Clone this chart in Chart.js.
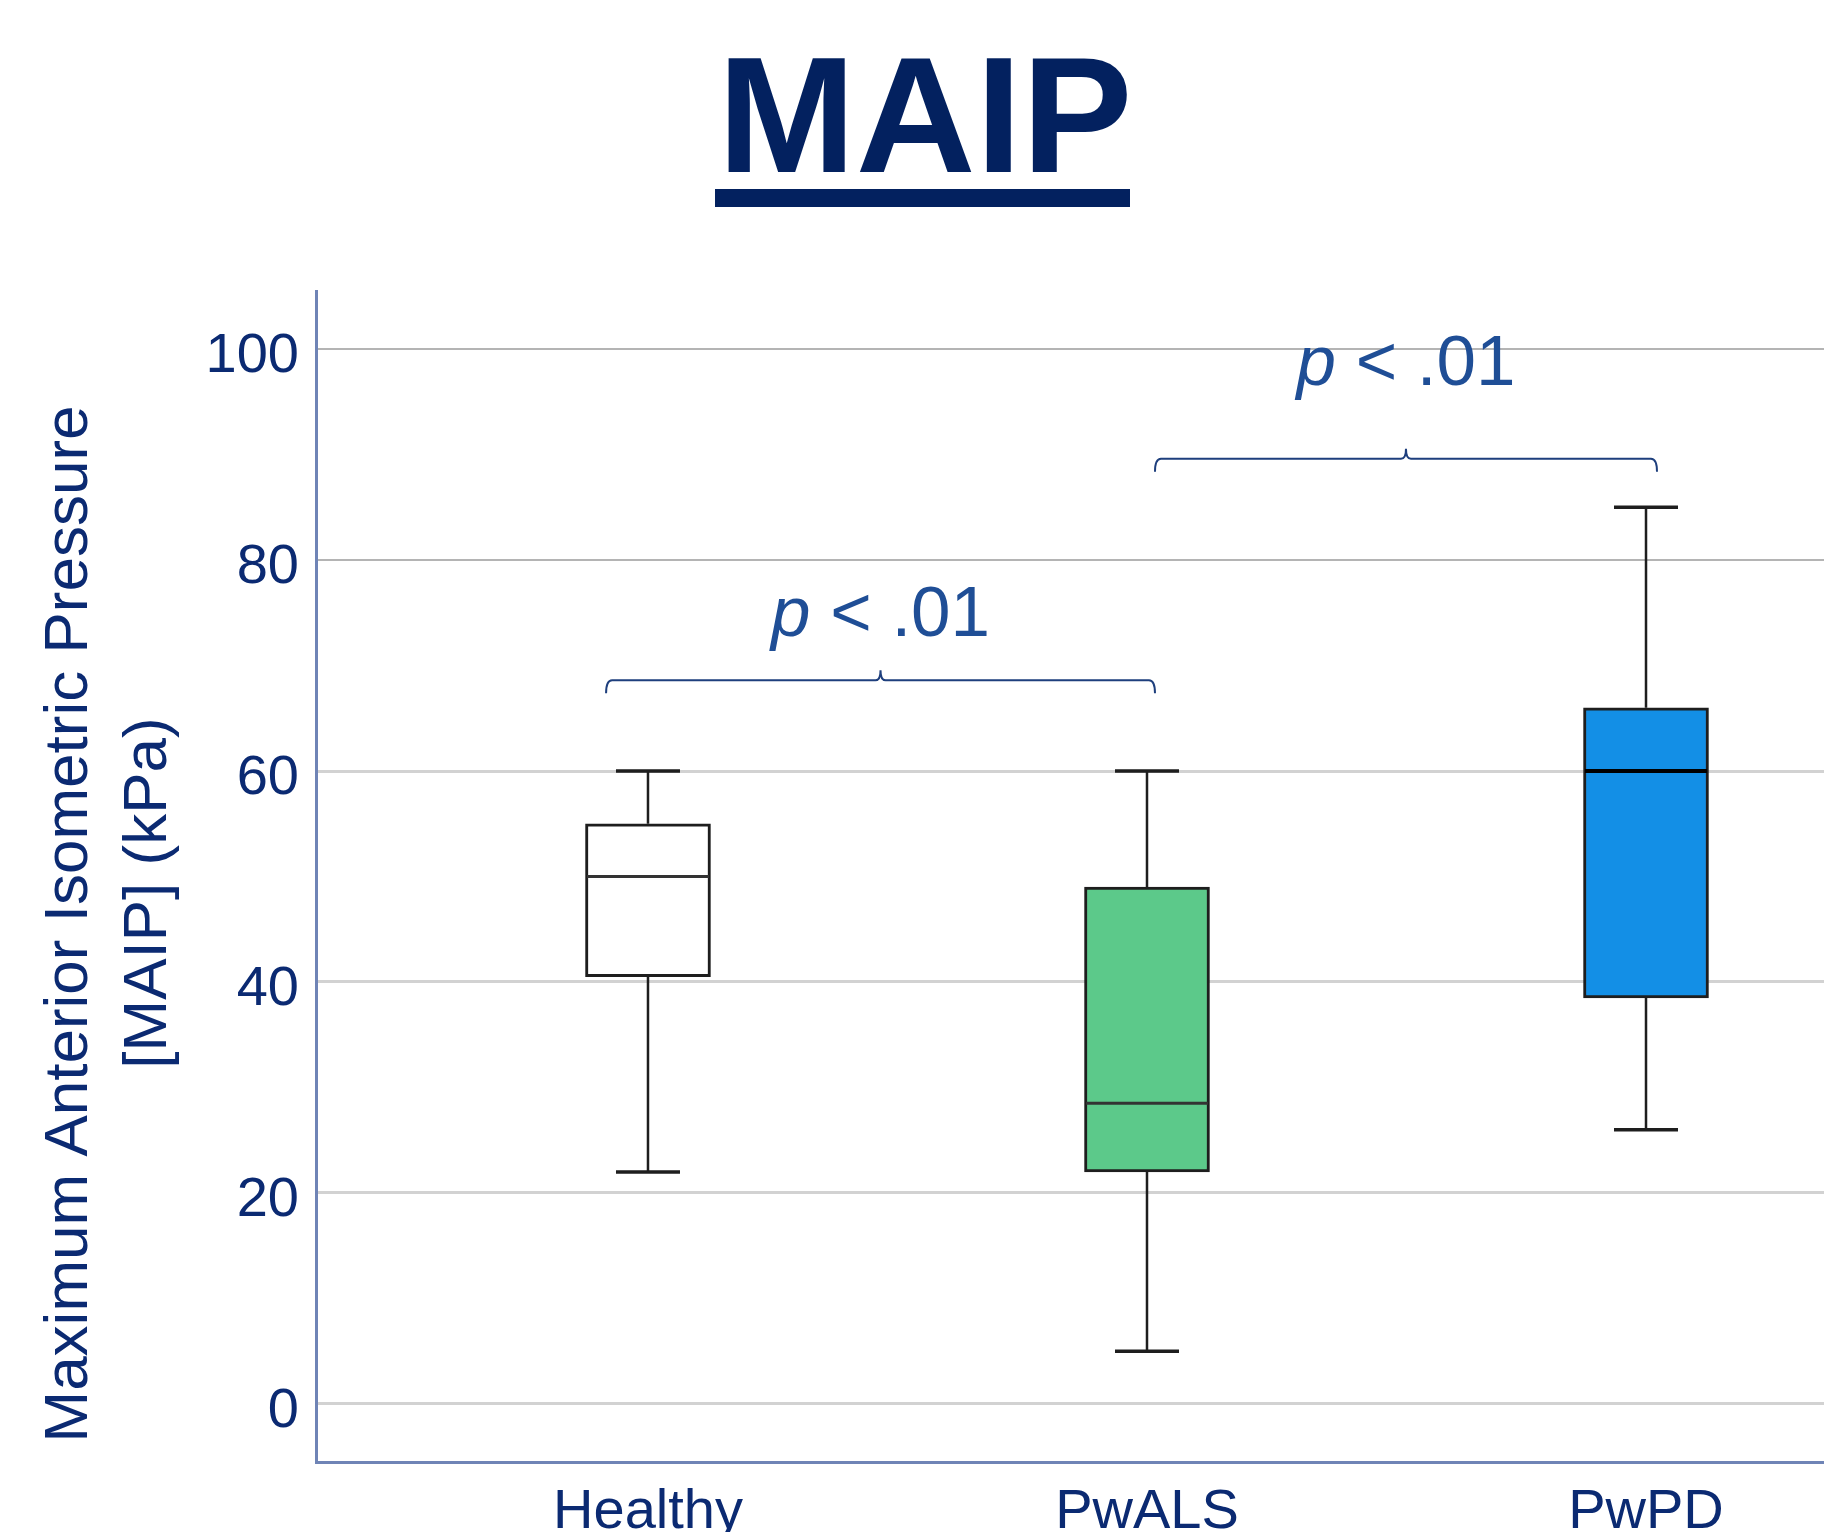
<!DOCTYPE html>
<html>
<head>
<meta charset="utf-8">
<script src="https://cdn.jsdelivr.net/npm/chart.js@4"></script>
<style>
  html, body { margin: 0; padding: 0; background: #ffffff; }
  #wrap { width: 1824px; height: 1532px; }
</style>
</head>
<body>
<div id="wrap"><canvas id="c" width="1824" height="1532"></canvas></div>
<script>
// ---- data ----
const categories = ['Healthy', 'PwALS', 'PwPD'];
const whiskerMin = [22, 5, 26];
const q1 = [40.5, 22, 38.5];
const median = [50, 28.5, 60];
const q3 = [55, 49, 66];
const whiskerMax = [60, 60, 85];
const boxColors = ['#ffffff', '#5cc98a', '#138fe6'];
const yTicks = [0, 20, 40, 60, 80, 100];
const chartTitle = 'MAIP';
const yTitleLines = ['Maximum Anterior Isometric Pressure', '[MAIP] (kPa)'];
// significance brackets (x in category units, y in kPa)
const bracketFrom = [0.916, 2.016];
const bracketTo = [2.016, 3.022];
const bracketY = [68.6, 89.6];
const pLabelY = [72.8, 96.6];
const pItalic = ['p', 'p'];
const pRest = [' < .01', ' < .01'];

const FONT = '"Liberation Sans", Arial, Helvetica, sans-serif';
const NAVY = '#0b2a72';

const overlay = {
  id: 'overlay',
  afterDatasetsDraw(chart) {
    const ctx = chart.ctx;
    const xs = chart.scales.x, ys = chart.scales.y;
    ctx.save();
    ctx.strokeStyle = '#1e1e1e';
    for (let i = 0; i < categories.length; i++) {
      const cx = xs.getPixelForValue(i + 1);
      const yMax = ys.getPixelForValue(whiskerMax[i]);
      const yQ3 = ys.getPixelForValue(q3[i]);
      const yQ1 = ys.getPixelForValue(q1[i]);
      const yMin = ys.getPixelForValue(whiskerMin[i]);
      const yMed = ys.getPixelForValue(median[i]);
      ctx.lineWidth = 2.5;
      ctx.beginPath();
      ctx.moveTo(cx, yMax); ctx.lineTo(cx, yQ3);
      ctx.moveTo(cx, yQ1); ctx.lineTo(cx, yMin);
      ctx.stroke();
      ctx.lineWidth = 3.5;
      ctx.beginPath();
      ctx.moveTo(cx - 32, yMax); ctx.lineTo(cx + 32, yMax);
      ctx.moveTo(cx - 32, yMin); ctx.lineTo(cx + 32, yMin);
      ctx.stroke();
      ctx.lineWidth = i === 2 ? 4 : 3;
      ctx.strokeStyle = i === 2 ? '#000000' : '#333333';
      ctx.beginPath();
      ctx.moveTo(cx - 61, yMed); ctx.lineTo(cx + 61, yMed);
      ctx.stroke();
      ctx.strokeStyle = '#1e1e1e';
    }
    for (let k = 0; k < bracketFrom.length; k++) {
      const x1 = xs.getPixelForValue(bracketFrom[k]);
      const x2 = xs.getPixelForValue(bracketTo[k]);
      const xm = (x1 + x2) / 2;
      const by = ys.getPixelForValue(bracketY[k]);
      ctx.strokeStyle = '#1e3f7d';
      ctx.lineWidth = 2;
      ctx.beginPath();
      ctx.moveTo(x1, by + 13);
      ctx.quadraticCurveTo(x1, by, x1 + 6, by);
      ctx.lineTo(xm - 5, by);
      ctx.quadraticCurveTo(xm, by, xm, by - 10);
      ctx.quadraticCurveTo(xm, by, xm + 5, by);
      ctx.lineTo(x2 - 6, by);
      ctx.quadraticCurveTo(x2, by, x2, by + 13);
      ctx.stroke();
      const ly = ys.getPixelForValue(pLabelY[k]);
      ctx.fillStyle = '#1f4e96';
      ctx.textBaseline = 'alphabetic';
      ctx.textAlign = 'left';
      ctx.font = 'italic 71px ' + FONT;
      const w1 = ctx.measureText(pItalic[k]).width;
      ctx.font = '71px ' + FONT;
      const w2 = ctx.measureText(pRest[k]).width;
      const sx = xm - (w1 + w2) / 2;
      ctx.font = 'italic 71px ' + FONT;
      ctx.fillText(pItalic[k], sx, ly);
      ctx.font = '71px ' + FONT;
      ctx.fillText(pRest[k], sx + w1, ly);
    }
    ctx.restore();
  },
  afterDraw(chart) {
    const ctx = chart.ctx;
    ctx.save();
    ctx.fillStyle = '#03215f';
    ctx.font = 'bold 166px ' + FONT;
    ctx.textAlign = 'center';
    ctx.textBaseline = 'alphabetic';
    ctx.fillText(chartTitle, 925, 172);
    ctx.fillRect(715, 189, 415, 18);
    ctx.fillStyle = NAVY;
    ctx.font = '62px ' + FONT;
    ctx.textAlign = 'center';
    ctx.save();
    ctx.translate(87, 924);
    ctx.rotate(-Math.PI / 2);
    ctx.fillText(yTitleLines[0], 0, 0);
    ctx.restore();
    ctx.save();
    ctx.translate(166, 893);
    ctx.rotate(-Math.PI / 2);
    ctx.fillText(yTitleLines[1], 0, 0);
    ctx.restore();
    ctx.restore();
  }
};

new Chart(document.getElementById('c'), {
  type: 'bar',
  data: {
    datasets: [{
      data: categories.map((c, i) => ({ x: i + 1, y: [q1[i], q3[i]] })),
      backgroundColor: boxColors,
      borderColor: '#1e1e1e',
      borderWidth: 3,
      borderSkipped: false,
      barThickness: 125
    }]
  },
  options: {
    responsive: false,
    animation: false,
    devicePixelRatio: 1,
    layout: { padding: { top: 291, left: 0, right: 0, bottom: 0 } },
    plugins: { legend: { display: false }, tooltip: { enabled: false }, title: { display: false } },
    scales: {
      x: {
        type: 'linear',
        offset: false,
        min: 0.3347,
        max: 3.3567,
        afterBuildTicks: (axis) => { axis.ticks = categories.map((c, i) => ({ value: i + 1 })); },
        afterFit: (scale) => { scale.height = 70; },
        grid: { display: false, drawTicks: false, offset: false },
        border: { display: true, color: '#6f84b6', width: 3 },
        ticks: {
          autoSkip: false,
          maxRotation: 0,
          padding: 17,
          color: NAVY,
          font: { family: FONT, size: 56 },
          callback: (v) => categories[Math.round(v) - 1] || ''
        }
      },
      y: {
        type: 'linear',
        min: -5.5,
        max: 105.5,
        afterBuildTicks: (axis) => { axis.ticks = yTicks.map(v => ({ value: v })); },
        afterFit: (scale) => { scale.width = 316; },
        grid: {
          drawTicks: false,
          color: (c) => (c.tick && c.tick.value >= 80) ? '#b4b4b4' : '#d2d2d2',
          lineWidth: (c) => (c.tick && c.tick.value >= 80) ? 2 : 3
        },
        border: { display: true, color: '#6f84b6', width: 3 },
        ticks: {
          padding: 17,
          labelOffset: 8,
          color: NAVY,
          font: { family: FONT, size: 56 },
          callback: (v) => String(v)
        }
      }
    }
  },
  plugins: [overlay]
});
</script>
</body>
</html>
